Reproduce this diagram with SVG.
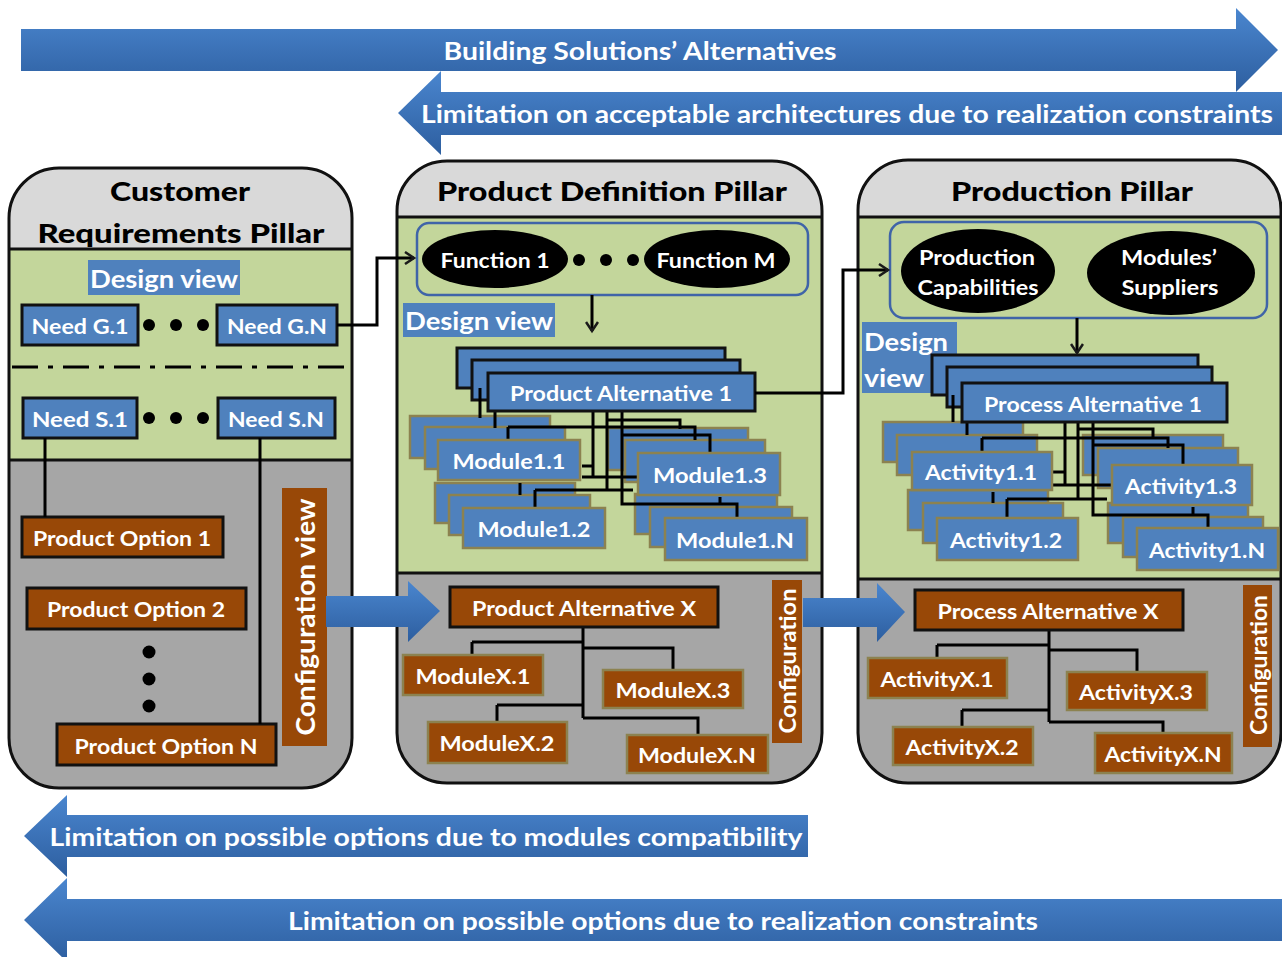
<svg xmlns="http://www.w3.org/2000/svg" width="1282" height="957" viewBox="0 0 1282 957">
<defs>
<linearGradient id="bg" x1="0" y1="0" x2="0" y2="1">
<stop offset="0" stop-color="#4a86cf"/>
<stop offset="1" stop-color="#2d5e9f"/>
</linearGradient>
<marker id="oa" markerWidth="14" markerHeight="14" refX="11" refY="7" orient="auto" markerUnits="userSpaceOnUse">
<path d="M2,1 L11,7 L2,13" fill="none" stroke="#1a1a1a" stroke-width="2.5"/>
</marker>
<clipPath id="c1"><rect x="9" y="168" width="343" height="620" rx="50"/></clipPath>
<clipPath id="c2"><rect x="397" y="161" width="425" height="622" rx="50"/></clipPath>
<clipPath id="c3"><rect x="858" y="160" width="423" height="623" rx="50"/></clipPath>
</defs>
<style>
text{font-family:Lato,"Liberation Sans",Arial,sans-serif;font-weight:bold;fill:#fff;text-anchor:middle;dominant-baseline:central}
.t{fill:#000;font-size:27px;font-weight:900}
.at{font-size:24px}
.b{fill:#4f81bd;stroke:#111;stroke-width:3}
.m{fill:#4f81bd;stroke:#8c8250;stroke-width:2.5}
.r{fill:#984807;stroke:#111;stroke-width:3}
.rm{fill:#984807;stroke:#8c8250;stroke-width:2.5}
.rv{fill:#984807}
.lb{font-size:21px}
.dv{fill:#4f81bd}
.ln{fill:none;stroke:#000;stroke-width:3}
.ol{fill:none;stroke:#111;stroke-width:3}
.fb{fill:#c3d69b;stroke:#3f64a8;stroke-width:2.5}
.el{fill:#000}
</style>

<g id="arrows-top">
<polygon points="21,29 1236,29 1236,8 1278,50 1236,92 1236,71 21,71" fill="url(#bg)"/>
<text class="at" x="640" y="50" textLength="393" lengthAdjust="spacingAndGlyphs">Building Solutions’ Alternatives</text>
<polygon points="1282,92 441,92 441,71 398,113 441,155 441,135 1282,135" fill="url(#bg)"/>
<text class="at" x="847" y="113" textLength="852" lengthAdjust="spacingAndGlyphs">Limitation on acceptable architectures due to realization constraints</text>
</g>

<g id="arrows-bottom">
<polygon points="808,815 67,815 67,795 24,836 67,877 67,857 808,857" fill="url(#bg)"/>
<text class="at" x="426" y="836" textLength="753" lengthAdjust="spacingAndGlyphs">Limitation on possible options due to modules compatibility</text>
<polygon points="1282,899 67,899 67,878 24,920 67,962 67,941 1282,941" fill="url(#bg)"/>
<text class="at" x="663" y="920" textLength="750" lengthAdjust="spacingAndGlyphs">Limitation on possible options due to realization constraints</text>
</g>

<g id="pillar-customer">
<g clip-path="url(#c1)">
<rect x="0" y="160" width="360" height="89" fill="#d9d9d9"/>
<rect x="0" y="249" width="360" height="211" fill="#c3d69b"/>
<rect x="0" y="460" width="360" height="340" fill="#a6a6a6"/>
</g>
<line x1="9" y1="249" x2="352" y2="249" class="ol"/>
<line x1="9" y1="460" x2="352" y2="460" class="ol"/>
<rect x="9" y="168" width="343" height="620" rx="50" class="ol"/>
<text class="t" x="180" y="190" textLength="140" lengthAdjust="spacingAndGlyphs">Customer</text>
<text class="t" x="181" y="232" textLength="287" lengthAdjust="spacingAndGlyphs">Requirements Pillar</text>
<rect class="dv" x="88" y="260" width="152" height="35"/>
<text x="164" y="278" font-size="25" textLength="148" lengthAdjust="spacingAndGlyphs">Design view</text>
<line x1="12" y1="367" x2="350" y2="367" stroke="#000" stroke-width="3" stroke-dasharray="26 10 5 10"/>
</g>

<g id="need-g1"><rect class="b" x="22" y="305" width="116" height="40"/><text class="lb" x="80" y="325" textLength="97" lengthAdjust="spacingAndGlyphs">Need G.1</text></g>
<g id="need-gn"><rect class="b" x="217" y="305" width="120" height="40"/><text class="lb" x="277" y="325" textLength="100" lengthAdjust="spacingAndGlyphs">Need G.N</text></g>
<g id="need-s1"><rect class="b" x="23" y="398" width="114" height="40"/><text class="lb" x="80" y="418" textLength="96" lengthAdjust="spacingAndGlyphs">Need S.1</text></g>
<g id="need-sn"><rect class="b" x="218" y="398" width="117" height="40"/><text class="lb" x="276" y="418" textLength="96" lengthAdjust="spacingAndGlyphs">Need S.N</text></g>
<g id="dots-1" fill="#000">
<circle cx="149" cy="325" r="6"/><circle cx="176" cy="325" r="6"/><circle cx="203" cy="325" r="6"/>
<circle cx="149" cy="418" r="6"/><circle cx="176" cy="418" r="6"/><circle cx="203" cy="418" r="6"/>
<circle cx="149" cy="652" r="6.5"/><circle cx="149" cy="679" r="6.5"/><circle cx="149" cy="706" r="6.5"/>
</g>
<g id="po1"><rect class="r" x="22" y="517" width="201" height="40"/><text class="lb" x="122" y="537" textLength="178" lengthAdjust="spacingAndGlyphs">Product Option 1</text></g>
<g id="po2"><rect class="r" x="27" y="588" width="219" height="41"/><text class="lb" x="136" y="608" textLength="178" lengthAdjust="spacingAndGlyphs">Product Option 2</text></g>
<g id="pon"><rect class="r" x="57" y="724" width="219" height="41"/><text class="lb" x="166" y="745" textLength="183" lengthAdjust="spacingAndGlyphs">Product Option N</text></g>
<g id="config-view-1"><rect class="rv" x="282" y="488" width="45" height="258"/><text x="305" y="617" font-size="26" transform="rotate(-90 305 617)" textLength="237" lengthAdjust="spacingAndGlyphs">Configuration view</text></g>

<g id="pillar-product">
<g clip-path="url(#c2)">
<rect x="390" y="155" width="440" height="62" fill="#d9d9d9"/>
<rect x="390" y="217" width="440" height="356" fill="#c3d69b"/>
<rect x="390" y="573" width="440" height="220" fill="#a6a6a6"/>
</g>
<line x1="397" y1="217" x2="822" y2="217" class="ol"/>
<line x1="397" y1="573" x2="822" y2="573" class="ol"/>
<rect x="397" y="161" width="425" height="622" rx="50" class="ol"/>
<text class="t" x="612" y="190" textLength="350" lengthAdjust="spacingAndGlyphs">Product Definition Pillar</text>
<rect class="fb" x="417" y="223" width="391" height="72" rx="12"/>
<rect class="dv" x="403" y="303" width="152" height="34"/>
<text x="479" y="320" font-size="25" textLength="148" lengthAdjust="spacingAndGlyphs">Design view</text>
</g>
<g id="function-1"><ellipse class="el" cx="495" cy="259" rx="73" ry="29"/><text class="lb" x="495" y="259" textLength="109" lengthAdjust="spacingAndGlyphs">Function 1</text></g>
<g id="function-m"><ellipse class="el" cx="717" cy="259" rx="73" ry="29"/><text class="lb" x="716" y="259" textLength="119" lengthAdjust="spacingAndGlyphs">Function M</text></g>
<g id="dots-2" fill="#000"><circle cx="579" cy="260" r="6"/><circle cx="606" cy="260" r="6"/><circle cx="633" cy="260" r="6"/></g>

<g id="pa1-stack">
<rect class="b" x="457" y="348" width="268" height="40"/>
<rect class="b" x="472" y="360" width="268" height="40"/>
</g>
<g id="module-stacks-back">
<rect class="m" x="410" y="416" width="140" height="42"/>
<rect class="m" x="425" y="427" width="140" height="42"/>
<rect class="m" x="608" y="428" width="140" height="42"/>
<rect class="m" x="625" y="440" width="140" height="42"/>
<rect class="m" x="435" y="483" width="140" height="40"/>
<rect class="m" x="449" y="495" width="141" height="40"/>
<rect class="m" x="635" y="494" width="142" height="40"/>
<rect class="m" x="650" y="507" width="142" height="40"/>
</g>
<g id="pd-links" fill="none" stroke="#000" stroke-width="3">
<path d="M480,388 V418 M495,400 V428"/>
<path d="M607,420 H680 V429"/>
<path d="M508,427 H695 V440 M508,427 V441"/>
<path d="M622,435 H710 V453"/>
<path d="M593,410 V477 M582,466 H593 M582,477 H640"/>
<path d="M607,410 V490 M535,490 H633 M535,490 V508 M520,483 V495"/>
<path d="M622,410 V504 H737 V518 M720,497 V505"/>
</g>
<g id="product-alternative-1"><rect class="b" x="488" y="373" width="267" height="38"/><text class="lb" x="621" y="392" textLength="222" lengthAdjust="spacingAndGlyphs">Product Alternative 1</text></g>
<g id="module-1-1"><rect class="m" x="438" y="440" width="142" height="40"/><text class="lb" x="509" y="460" textLength="113" lengthAdjust="spacingAndGlyphs">Module1.1</text></g>
<g id="module-1-3"><rect class="m" x="638" y="453" width="142" height="42"/><text class="lb" x="710" y="474" textLength="114" lengthAdjust="spacingAndGlyphs">Module1.3</text></g>
<g id="module-1-2"><rect class="m" x="463" y="508" width="142" height="40"/><text class="lb" x="534" y="528" textLength="113" lengthAdjust="spacingAndGlyphs">Module1.2</text></g>
<g id="module-1-n"><rect class="m" x="665" y="518" width="142" height="42"/><text class="lb" x="735" y="539" textLength="118" lengthAdjust="spacingAndGlyphs">Module1.N</text></g>

<g id="pdx-links" fill="none" stroke="#000" stroke-width="3">
<path d="M583,627 V718 M472,642 H583 M472,642 V656 M583,648 H673 V670 M497,705 H583 M497,705 V722 M583,718 H698 V735"/>
</g>
<g id="product-alternative-x"><rect class="r" x="450" y="587" width="268" height="40"/><text class="lb" x="584" y="607" textLength="224" lengthAdjust="spacingAndGlyphs">Product Alternative X</text></g>
<g id="module-x-1"><rect class="rm" x="403" y="655" width="140" height="40"/><text class="lb" x="473" y="675" textLength="115" lengthAdjust="spacingAndGlyphs">ModuleX.1</text></g>
<g id="module-x-3"><rect class="rm" x="603" y="670" width="140" height="38"/><text class="lb" x="673" y="689" textLength="115" lengthAdjust="spacingAndGlyphs">ModuleX.3</text></g>
<g id="module-x-2"><rect class="rm" x="428" y="722" width="139" height="41"/><text class="lb" x="497" y="742" textLength="115" lengthAdjust="spacingAndGlyphs">ModuleX.2</text></g>
<g id="module-x-n"><rect class="rm" x="627" y="735" width="141" height="38"/><text class="lb" x="697" y="754" textLength="118" lengthAdjust="spacingAndGlyphs">ModuleX.N</text></g>
<g id="config-2"><rect class="rv" x="772" y="580" width="30" height="163"/><text x="787" y="661" font-size="23" transform="rotate(-90 787 661)" textLength="145" lengthAdjust="spacingAndGlyphs">Configuration</text></g>

<g id="pillar-production">
<g clip-path="url(#c3)">
<rect x="850" y="155" width="440" height="62" fill="#d9d9d9"/>
<rect x="850" y="217" width="440" height="362" fill="#c3d69b"/>
<rect x="850" y="579" width="440" height="220" fill="#a6a6a6"/>
</g>
<line x1="858" y1="217" x2="1281" y2="217" class="ol"/>
<line x1="858" y1="579" x2="1281" y2="579" class="ol"/>
<rect x="858" y="160" width="423" height="623" rx="50" class="ol"/>
<text class="t" x="1072" y="190" textLength="242" lengthAdjust="spacingAndGlyphs">Production Pillar</text>
<rect class="fb" x="890" y="222" width="377" height="96" rx="14"/>
<rect class="dv" x="862" y="322" width="95" height="71"/>
<text x="906" y="341" font-size="25" textLength="84" lengthAdjust="spacingAndGlyphs">Design</text>
<text x="894" y="377" font-size="25" textLength="60" lengthAdjust="spacingAndGlyphs">view</text>
</g>
<g id="production-capabilities"><ellipse class="el" cx="978" cy="271" rx="77" ry="42"/><text class="lb" x="977" y="256" textLength="116" lengthAdjust="spacingAndGlyphs">Production</text><text class="lb" x="978" y="286" textLength="121" lengthAdjust="spacingAndGlyphs">Capabilities</text></g>
<g id="modules-suppliers"><ellipse class="el" cx="1171" cy="273" rx="84" ry="42"/><text class="lb" x="1169" y="256" textLength="96" lengthAdjust="spacingAndGlyphs">Modules’</text><text class="lb" x="1170" y="286" textLength="97" lengthAdjust="spacingAndGlyphs">Suppliers</text></g>

<g id="pa-proc-stack">
<rect class="b" x="932" y="355" width="266" height="40"/>
<rect class="b" x="947" y="367" width="265" height="40"/>
</g>
<g id="activity-stacks-back">
<rect class="m" x="883" y="422" width="140" height="40"/>
<rect class="m" x="897" y="435" width="140" height="40"/>
<rect class="m" x="1083" y="435" width="140" height="40"/>
<rect class="m" x="1098" y="448" width="140" height="40"/>
<rect class="m" x="908" y="490" width="140" height="40"/>
<rect class="m" x="923" y="503" width="140" height="40"/>
<rect class="m" x="1108" y="503" width="140" height="40"/>
<rect class="m" x="1123" y="517" width="140" height="40"/>
</g>
<g id="pp-links" fill="none" stroke="#000" stroke-width="3">
<path d="M953,395 V422 M967,407 V435"/>
<path d="M1078,429 H1153 V437"/>
<path d="M982,438 H1168 V448 M982,438 V452"/>
<path d="M1093,445 H1183 V465"/>
<path d="M1065,422 V485 M1053,472 H1065 M1053,485 H1113"/>
<path d="M1078,422 V499 M1007,499 H1107 M1007,499 V518 M993,492 V503"/>
<path d="M1093,422 V515 H1208 V530 M1193,507 V515"/>
</g>
<g id="process-alternative-1"><rect class="b" x="962" y="383" width="265" height="39"/><text class="lb" x="1093" y="403" textLength="218" lengthAdjust="spacingAndGlyphs">Process Alternative 1</text></g>
<g id="activity-1-1"><rect class="m" x="912" y="452" width="140" height="38"/><text class="lb" x="981" y="471" textLength="112" lengthAdjust="spacingAndGlyphs">Activity1.1</text></g>
<g id="activity-1-3"><rect class="m" x="1112" y="465" width="140" height="40"/><text class="lb" x="1181" y="485" textLength="112" lengthAdjust="spacingAndGlyphs">Activity1.3</text></g>
<g id="activity-1-2"><rect class="m" x="937" y="518" width="141" height="42"/><text class="lb" x="1006" y="539" textLength="112" lengthAdjust="spacingAndGlyphs">Activity1.2</text></g>
<g id="activity-1-n"><rect class="m" x="1137" y="528" width="141" height="42"/><text class="lb" x="1207" y="549" textLength="116" lengthAdjust="spacingAndGlyphs">Activity1.N</text></g>

<g id="ppx-links" fill="none" stroke="#000" stroke-width="3">
<path d="M1049,630 V722 M937,645 H1049 M937,645 V658 M1049,650 H1137 V672 M962,710 H1049 M962,710 V727 M1049,722 H1163 V733"/>
</g>
<g id="process-alternative-x"><rect class="r" x="915" y="590" width="268" height="40"/><text class="lb" x="1048" y="610" textLength="221" lengthAdjust="spacingAndGlyphs">Process Alternative X</text></g>
<g id="activity-x-1"><rect class="rm" x="868" y="658" width="139" height="40"/><text class="lb" x="937" y="678" textLength="113" lengthAdjust="spacingAndGlyphs">ActivityX.1</text></g>
<g id="activity-x-3"><rect class="rm" x="1067" y="672" width="140" height="38"/><text class="lb" x="1136" y="691" textLength="114" lengthAdjust="spacingAndGlyphs">ActivityX.3</text></g>
<g id="activity-x-2"><rect class="rm" x="893" y="727" width="140" height="38"/><text class="lb" x="962" y="746" textLength="113" lengthAdjust="spacingAndGlyphs">ActivityX.2</text></g>
<g id="activity-x-n"><rect class="rm" x="1095" y="733" width="137" height="40"/><text class="lb" x="1163" y="753" textLength="117" lengthAdjust="spacingAndGlyphs">ActivityX.N</text></g>
<g id="config-3"><rect class="rv" x="1243" y="585" width="29" height="162"/><text x="1258" y="665" font-size="23" transform="rotate(-90 1258 665)" textLength="140" lengthAdjust="spacingAndGlyphs">Configuration</text></g>

<g id="flow-arrows">
<polygon points="326,596 408,596 408,581 440,611 408,642 408,627 326,627" fill="url(#bg)"/>
<polygon points="803,598 877,598 877,583 905,612 877,642 877,627 803,627" fill="url(#bg)"/>
</g>

<g id="connectors">
<polyline class="ln" points="337,325 377,325 377,258 414,258" stroke-width="2.5" marker-end="url(#oa)"/>
<line class="ln" x1="592" y1="295" x2="592" y2="331" stroke-width="2.5" marker-end="url(#oa)"/>
<polyline class="ln" points="755,393 843,393 843,270 888,270" stroke-width="2.5" marker-end="url(#oa)"/>
<line class="ln" x1="1077" y1="318" x2="1077" y2="353" stroke-width="2.5" marker-end="url(#oa)"/>
<line class="ln" x1="45" y1="438" x2="45" y2="517"/>
<line class="ln" x1="260" y1="438" x2="260" y2="724"/>
</g>
</svg>
